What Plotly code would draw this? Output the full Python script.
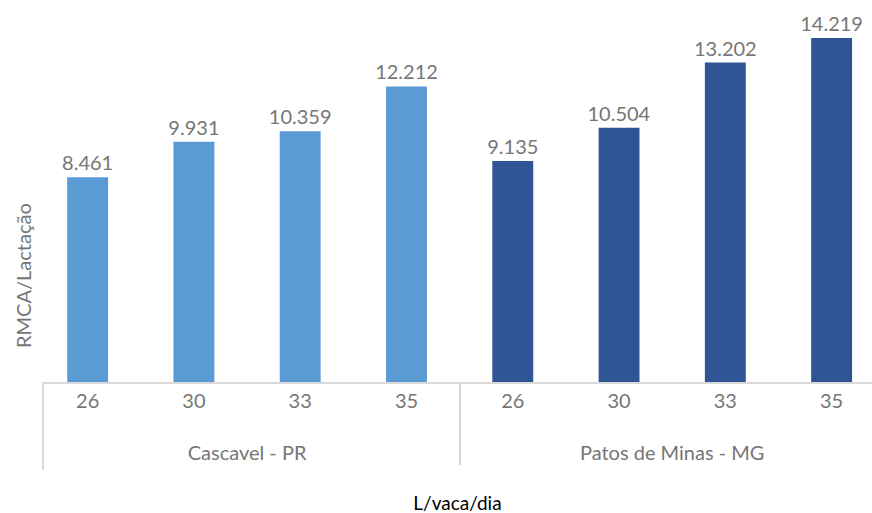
import plotly.graph_objects as go

regions = ["Cascavel - PR", "Patos de Minas - MG"]
production = ["26", "30", "33", "35"]
cascavel_values = [8461, 9931, 10359, 12212]
patos_values = [9135, 10504, 13202, 14219]
colors = ["#5B9BD5", "#2F5597"]

TXT = "#767676"
FONT = "Lato"
LINE = "#D9D9D9"

fig = go.Figure()
for region, vals, col in zip(regions, [cascavel_values, patos_values], colors):
    fig.add_trace(go.Bar(
        x=[["<br>" + region] * len(production), production],
        y=vals,
        marker=dict(color=col, line=dict(width=0)),
        width=0.385,
        text=vals,
        texttemplate="%{y:,}",
        textposition="outside",
        constraintext="none",
        textfont=dict(family=FONT, size=20, color=TXT),
        cliponaxis=False,
        showlegend=False,
    ))

fig.update_layout(
    width=872, height=513,
    margin=dict(l=43, r=0, t=19, b=131),
    paper_bgcolor="white", plot_bgcolor="white",
    separators=",.",
    barmode="overlay",
    font=dict(family=FONT, size=20, color=TXT),
    xaxis=dict(
        type="multicategory",
        range=[-0.42, 7.38],
        showline=True, linecolor=LINE, linewidth=2,
        showdividers=True, dividercolor=LINE, dividerwidth=2,
        tickfont=dict(family=FONT, size=20, color=TXT),
        showgrid=False, ticks="",
        title=dict(text="L/vaca/dia", font=dict(family=FONT, size=19, color="#000000"), standoff=34),
    ),
    yaxis=dict(
        range=[0, 15000],
        showticklabels=False, showgrid=False, zeroline=False, showline=False,
    ),
    shapes=[dict(
        type="line", xref="paper", yref="paper",
        x0=0, x1=0, y0=0, y1=-88 / 363.0,
        line=dict(color=LINE, width=2),
    )],
    annotations=[dict(
        text="RMCA/Lactação", textangle=-90,
        xref="paper", yref="paper", x=-20 / 829.0, y=(382 - 276) / 363.0,
        xanchor="center", yanchor="middle", showarrow=False,
        font=dict(family=FONT, size=20, color=TXT),
    )],
)

fig.write_html("out.html")
